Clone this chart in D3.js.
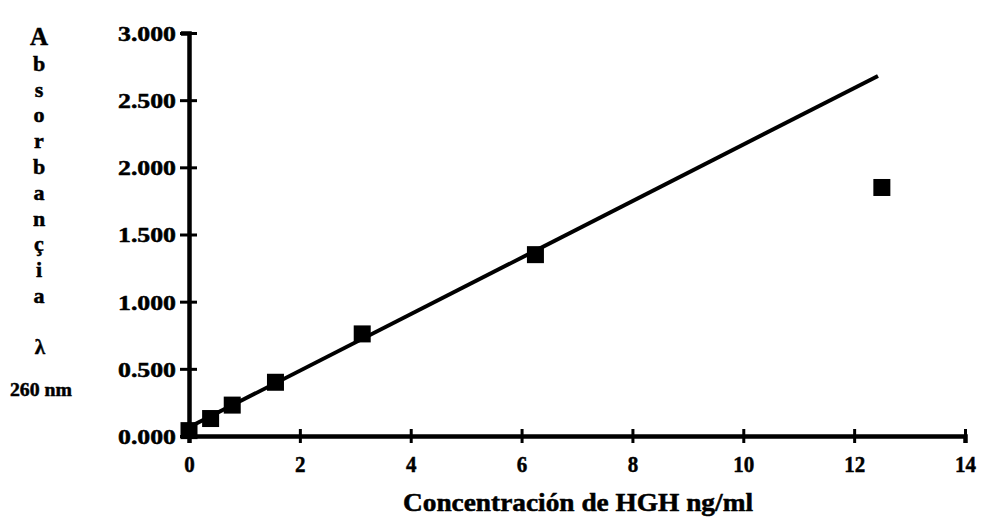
<!DOCTYPE html>
<html>
<head>
<meta charset="utf-8">
<script src="https://cdn.jsdelivr.net/npm/d3@7"></script>
<style>
  body { margin: 0; background: #fff; }
  svg { display: block; }
  text { font-family: "Liberation Serif", "Times New Roman", serif; font-weight: bold; fill: #000; stroke: #000; stroke-width: 0.5px; }
</style>
</head>
<body>
<div id="chart"></div>
<script>
const W = 983, H = 528;

// données
const concentracion = [0, 0.39, 0.78, 1.56, 3.125, 6.25, 12.5];
const absorbancia = [0.04, 0.13, 0.23, 0.40, 0.76, 1.35, 1.85];
// droite d'ajustement (extrémités lues)
const ajusteX = [0, 12.43];
const ajusteY = [0.065, 2.68];
const xTicks = [0, 2, 4, 6, 8, 10, 12, 14];
const yTicks = [0, 0.5, 1, 1.5, 2, 2.5, 3];
const tituloY = ["A", "b", "s", "o", "r", "b", "a", "n", "ç", "i", "a"];

const svg = d3.select("#chart").append("svg")
    .attr("width", W)
    .attr("height", H);

const x = d3.scaleLinear().domain([0, 14]).range([189, 965]);
const y = d3.scaleLinear().domain([0, 3]).range([436, 33]);

// axe Y
const gy = svg.append("g")
    .attr("transform", "translate(" + x(0) + ",0)")
    .call(d3.axisLeft(y).tickValues(yTicks).tickSizeOuter(0).tickSize(8)
        .tickFormat(d => d3.format(".3f")(d)));
gy.attr("font-size", null).attr("font-family", null);
gy.select(".domain").attr("stroke-width", 4.5).attr("stroke", "#000");
gy.selectAll(".tick line").attr("x1", -9).attr("x2", 8).attr("stroke-width", 3).attr("stroke", "#000");
gy.selectAll(".tick text")
    .attr("x", -13)
    .attr("dy", "0.35em")
    .style("font-size", "21px")
    .attr("textLength", 58)
    .attr("lengthAdjust", "spacingAndGlyphs");

// axe X
const gx = svg.append("g")
    .attr("transform", "translate(0," + y(0) + ")")
    .call(d3.axisBottom(x).tickValues(xTicks).tickSizeOuter(0).tickSize(7));
gx.attr("font-size", null).attr("font-family", null);
gx.select(".domain").attr("stroke-width", 4.5).attr("stroke", "#000");
gx.selectAll(".tick line").attr("y1", -7).attr("y2", 7).attr("stroke-width", 3).attr("stroke", "#000");
gx.selectAll(".tick text")
    .attr("y", 19)
    .attr("dy", "0.71em")
    .style("font-size", "24px")
    .attr("textLength", d => String(d).length * 10.5)
    .attr("lengthAdjust", "spacingAndGlyphs");

// droite
const ligne = d3.line().x(d => x(d[0])).y(d => y(d[1]));
svg.append("path")
    .datum(d3.zip(ajusteX, ajusteY))
    .attr("d", ligne)
    .attr("fill", "none")
    .attr("stroke", "#000")
    .attr("stroke-width", 4);

// points carrés
const s = 17;
svg.selectAll("rect.pt")
    .data(d3.zip(concentracion, absorbancia))
    .enter()
    .append("rect")
    .attr("class", "pt")
    .attr("x", d => x(d[0]) - s / 2)
    .attr("y", d => y(d[1]) - s / 2)
    .attr("width", s)
    .attr("height", s)
    .attr("fill", "#000");

// titre axe Y, lettres empilées
svg.selectAll("text.ty")
    .data(tituloY)
    .enter()
    .append("text")
    .attr("class", "ty")
    .attr("x", 39)
    .attr("y", (d, i) => 45 + i * 25.8)
    .attr("text-anchor", "middle")
    .style("font-size", (d, i) => i === 0 ? "25px" : "22px")
    .text(d => d);

svg.append("text")
    .attr("x", 40).attr("y", 354)
    .attr("text-anchor", "middle")
    .style("font-size", "21px")
    .text("λ");

svg.append("text")
    .attr("x", 10).attr("y", 396)
    .style("font-size", "19px")
    .attr("textLength", 62)
    .attr("lengthAdjust", "spacingAndGlyphs")
    .text("260 nm");

// titre axe X
svg.append("text")
    .attr("x", 578).attr("y", 511)
    .attr("text-anchor", "middle")
    .style("font-size", "25px")
    .attr("textLength", 350)
    .attr("lengthAdjust", "spacingAndGlyphs")
    .text("Concentración de HGH ng/ml");
</script>
</body>
</html>
